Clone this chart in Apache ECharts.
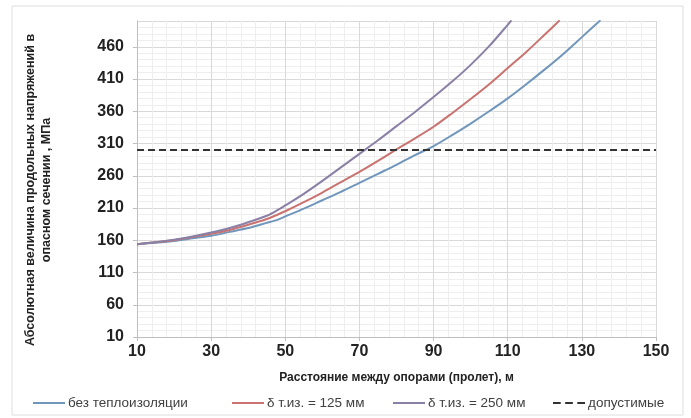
<!DOCTYPE html>
<html>
<head>
<meta charset="utf-8">
<script src="https://cdn.jsdelivr.net/npm/echarts@6/dist/echarts.min.js"></script>
<style>html,body{margin:0;padding:0;background:#fff;}#c{width:691px;height:418px;}</style>
</head>
<body>
<div id="c"></div>
<script>
// Categories / x values (span, m)
var xBlue   = [10,15,20,25,30,35,40,45,48,50,55,60,65,70,75,80,85,90,95,100,105,110,115,120,125,130,135];
var yBlue   = [154,156,159,163,167,173,179,187,192,197,209,222,235,249,263,277,292,306,323,341,360,380,402,425,449,475,501];
var xRed    = [10,15,20,25,30,35,40,45,48,50,55,60,65,70,75,80,85,90,95,100,105,110,115,120,124];
var yRed    = [154,157,160,165,170,176,184,193,200,205,219,234,250,266,283,301,318,336,357,379,402,427,452,479,501];
var xPurple = [10,15,20,25,30,35,40,45,48,50,55,60,65,70,75,80,85,90,95,100,105,110,111];
var yPurple = [154,157,161,166,172,179,188,198,207,214,232,252,273,294,315,337,359,382,406,432,461,494,501];
var xLimit  = [10,150];
var yLimit  = [300,300];

var seriesNames = ['без теплоизоляции','δ т.из. = 125 мм','δ т.из. = 250 мм','допустимые'];
var yTicks = [10,60,110,160,210,260,310,360,410,460];
var xTicks = [10,30,50,70,90,110,130,150];

function pairs(xs, ys){ return xs.map(function(x,i){ return [x, ys[i]]; }); }

var cBlue = '#7096bb', cRed = '#c9726f', cPurple = '#8a80a6', cLimit = '#333333';
var lineIcon = 'path://M0,4L32,4L32,6L0,6Z';
var dashIcon = 'path://M0,4L7,4L7,6L0,6Z M11,4L18,4L18,6L11,6Z M22,4L29,4L29,6L22,6Z';

var chart = echarts.init(document.getElementById('c'), null, {renderer:'canvas'});
var legendCommon = {
  top: 391, itemWidth: 32, itemHeight: 10, itemGap: 0,
  textStyle: {fontFamily:'Liberation Sans', fontSize:13.5, color:'#404040', padding:[0,0,0,-2]}
};
chart.setOption({
  animation: false,
  backgroundColor: '#ffffff',
  textStyle: {fontFamily: 'Liberation Sans'},
  graphic: [
    {type:'rect', shape:{x:12,y:6,width:671,height:409}, style:{fill:'none', stroke:'#dedede', lineWidth:1}, z:-1},
    {type:'text', x:31, y:190, rotation: Math.PI/2, style:{text:'Абсолютная величина продольных напряжений в', font:'bold 12.5px "Liberation Sans"', fill:'#222', textAlign:'center', textVerticalAlign:'middle'}},
    {type:'text', x:47, y:190, rotation: Math.PI/2, style:{text:'опасном сечении , МПа', font:'bold 12.5px "Liberation Sans"', fill:'#222', textAlign:'center', textVerticalAlign:'middle'}}
  ],
  grid: {left:137, right:35, top:21, bottom:81, containLabel:false},
  legend: [
    Object.assign({left:28, data:[{name:seriesNames[0], icon:lineIcon}]}, legendCommon),
    Object.assign({left:227, data:[{name:seriesNames[1], icon:lineIcon}]}, legendCommon),
    Object.assign({left:388, data:[{name:seriesNames[2], icon:lineIcon}]}, legendCommon),
    Object.assign({left:548, data:[{name:seriesNames[3], icon:dashIcon}]}, legendCommon)
  ],
  xAxis: {
    type:'value', min:10, max:150, interval:20,
    name:'Расстояние между опорами (пролет), м', nameLocation:'middle', nameGap:35,
    nameTextStyle:{fontWeight:'bold', fontSize:12, color:'#222'},
    axisLine:{show:true, lineStyle:{color:'#bfbfbf'}},
    axisTick:{show:true, length:4, lineStyle:{color:'#bfbfbf'}},
    axisLabel:{fontWeight:'bold', fontSize:16, color:'#222', margin:7},
    splitLine:{show:true, lineStyle:{color:'#d9d9d9'}},
    minorTick:{show:false, splitNumber:5},
    minorSplitLine:{show:true, lineStyle:{color:'#eeeeee'}}
  },
  yAxis: {
    type:'value', min:10, max:500, interval:50,
    axisLine:{show:true, lineStyle:{color:'#bfbfbf'}},
    axisTick:{show:true, length:4, lineStyle:{color:'#bfbfbf'}},
    axisLabel:{fontWeight:'bold', fontSize:16, color:'#222', margin:13, showMaxLabel:false,
      formatter:function(v){ return yTicks.indexOf(v) >= 0 ? String(v) : ''; }},
    splitLine:{show:true, lineStyle:{color:'#d9d9d9'}},
    minorTick:{show:false, splitNumber:5},
    minorSplitLine:{show:true, lineStyle:{color:'#eeeeee'}}
  },
  series: [
    {name:seriesNames[0], type:'line', data:pairs(xBlue,yBlue), smooth:0.3, showSymbol:false, symbol:'none', lineStyle:{color:cBlue, width:2}, itemStyle:{color:cBlue}, clip:true, z:3},
    {name:seriesNames[1], type:'line', data:pairs(xRed,yRed), smooth:0.3, showSymbol:false, symbol:'none', lineStyle:{color:cRed, width:2}, itemStyle:{color:cRed}, clip:true, z:3},
    {name:seriesNames[2], type:'line', data:pairs(xPurple,yPurple), smooth:0.3, showSymbol:false, symbol:'none', lineStyle:{color:cPurple, width:2}, itemStyle:{color:cPurple}, clip:true, z:3},
    {name:seriesNames[3], type:'line', data:pairs(xLimit,yLimit), showSymbol:false, symbol:'none', lineStyle:{color:cLimit, width:2, type:[7,4]}, itemStyle:{color:cLimit}, z:4}
  ]
});
</script>
</body>
</html>
